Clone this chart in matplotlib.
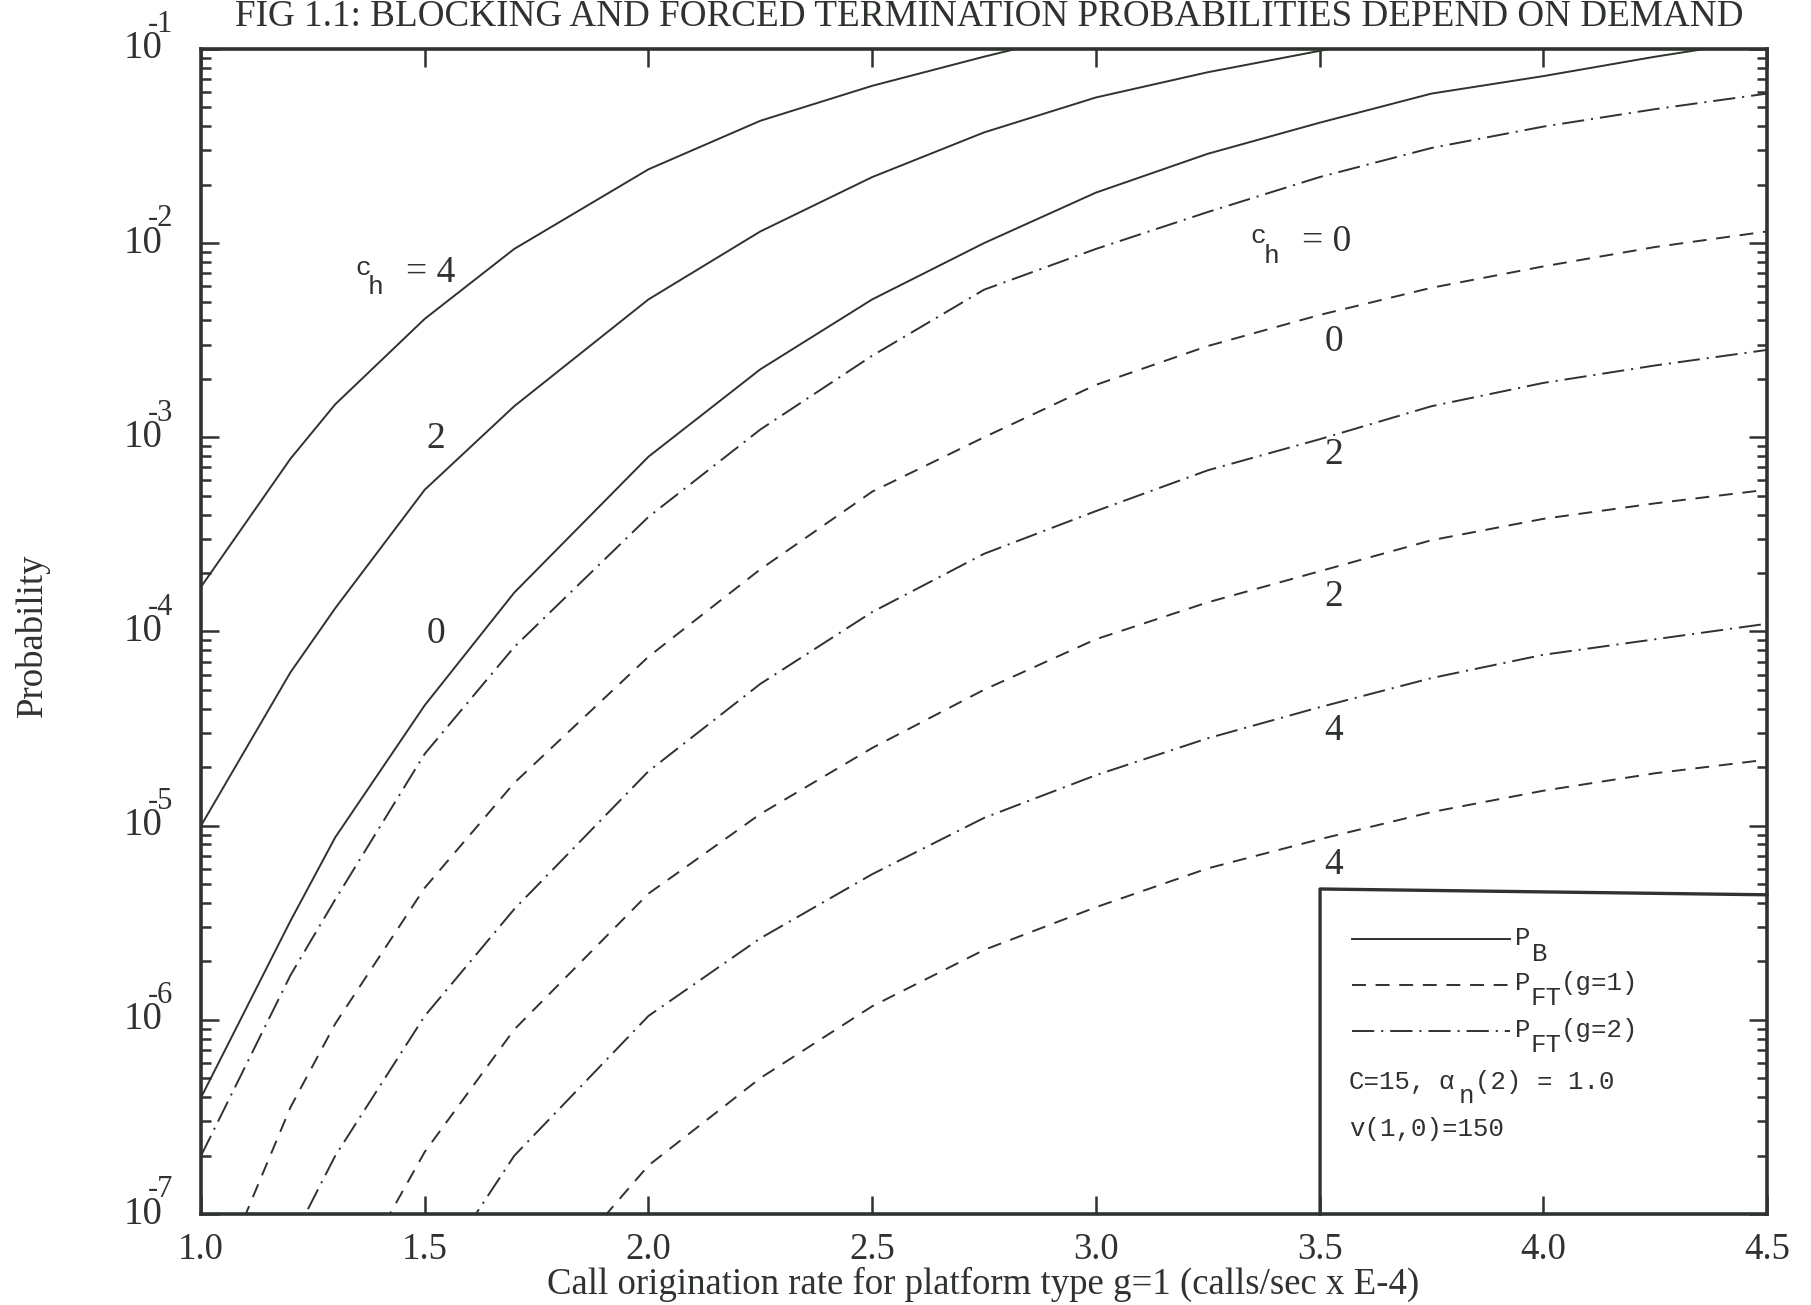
import numpy as np
import matplotlib
matplotlib.use('Agg')
import matplotlib.pyplot as plt
from matplotlib.ticker import FixedLocator, LogLocator, NullFormatter

# call origination rate (calls/sec x E-4)
X = [1.0, 1.2, 1.3, 1.5, 1.7, 2.0, 2.25, 2.5, 2.75, 3.0, 3.25, 3.5, 3.75, 4.0, 4.25, 4.5]
nan = np.nan

# log10 of probability
PB_CH4 = [-3.77, -3.11, -2.83, -2.39, -2.03, -1.62, -1.37, -1.19, -1.04, -0.90,
          nan, nan, nan, nan, nan, nan]
PB_CH2 = [-5.00, -4.21, -3.88, -3.27, -2.84, -2.29, -1.94, -1.66, -1.43, -1.25,
          -1.12, -1.01, -0.90, nan, nan, nan]
PB_CH0 = [-6.40, -5.49, -5.06, -4.38, -3.80, -3.10, -2.65, -2.29, -2.00, -1.74,
          -1.54, -1.38, -1.23, -1.14, -1.04, -0.95]
G1_CH0 = [-7.55, -6.45, -6.02, -5.32, -4.78, -4.13, -3.68, -3.28, -3.00, -2.73,
          -2.53, -2.37, -2.23, -2.12, -2.02, -1.94]
G1_CH2 = [nan, nan, -7.50, -6.68, -6.05, -5.35, -4.94, -4.60, -4.30, -4.04,
          -3.85, -3.69, -3.53, -3.42, -3.34, -3.27]
G1_CH4 = [nan, nan, nan, nan, -7.55, -6.75, -6.30, -5.93, -5.64, -5.42,
          -5.22, -5.07, -4.93, -4.82, -4.73, -4.66]
G2_CH0 = [-6.70, -5.77, -5.38, -4.63, -4.08, -3.41, -2.96, -2.58, -2.24, -2.03,
          -1.84, -1.66, -1.51, -1.40, -1.31, -1.23]
G2_CH2 = [nan, -7.15, -6.70, -5.98, -5.43, -4.72, -4.27, -3.90, -3.60, -3.38,
          -3.17, -3.01, -2.84, -2.72, -2.63, -2.55]
G2_CH4 = [nan, nan, nan, -7.40, -6.70, -5.98, -5.58, -5.25, -4.96, -4.74,
          -4.55, -4.39, -4.24, -4.12, -4.04, -3.96]

X_TICKS = [1.0, 1.5, 2.0, 2.5, 3.0, 3.5, 4.0, 4.5]
Y_EXPONENTS = [-1, -2, -3, -4, -5, -6, -7]

# curve labels: (channel count, x, log10 y, with "c_h =" prefix)
CURVE_LABELS = [
    ('4', 1.459, -2.155, True),
    ('2', 1.524, -3.01, False),
    ('0', 1.524, -4.01, False),
    ('0', 3.46, -1.994, True),
    ('0', 3.532, -2.51, False),
    ('2', 3.532, -3.09, False),
    ('2', 3.532, -3.82, False),
    ('4', 3.532, -4.51, False),
    ('4', 3.532, -5.20, False),
]

plt.rcParams['font.family'] = ['Liberation Serif', 'DejaVu Serif']
plt.rcParams['lines.scale_dashes'] = False

INK = '#2e332e'
MONO = 'Liberation Mono'
SOLID = '-'
DASH = (0, (10, 7))
DASHDOT = (0, (16, 5, 1.5, 5))
LEG_FS = 18.5


def seg_text(ax, x, y, parts, fs, family=MONO):
    # parts: (text, dx in monospace chars, dy in points)
    for txt, dx, dy in parts:
        ax.annotate(txt, xy=(x, y), xycoords='axes fraction',
                    xytext=(dx * 0.6 * fs, dy), textcoords='offset points',
                    family=family, fontsize=fs, color=INK, va='baseline', ha='left')


def main():
    fig = plt.figure(figsize=(18.11, 13.05), dpi=100)
    ax = fig.add_axes([0.111, 0.0697, 0.8647, 0.8928])

    for vals, ls in [(PB_CH4, SOLID), (PB_CH2, SOLID), (PB_CH0, SOLID),
                     (G1_CH0, DASH), (G1_CH2, DASH), (G1_CH4, DASH),
                     (G2_CH0, DASHDOT), (G2_CH2, DASHDOT), (G2_CH4, DASHDOT)]:
        ax.plot(X, 10 ** np.array(vals), color=INK, lw=1.4, ls=ls)

    ax.set_yscale('log')
    ax.set_xlim(1.0, 4.5)
    ax.set_ylim(1e-7, 1e-1)

    ax.xaxis.set_major_locator(FixedLocator(X_TICKS))
    ax.set_xticklabels(['%.1f' % v for v in X_TICKS])
    ax.yaxis.set_major_locator(FixedLocator([10.0 ** e for e in Y_EXPONENTS]))
    ax.yaxis.set_minor_locator(LogLocator(base=10, subs=np.arange(2, 10), numticks=20))
    ax.yaxis.set_major_formatter(NullFormatter())
    ax.yaxis.set_minor_formatter(NullFormatter())

    ax.tick_params(which='both', direction='in', top=True, right=True,
                   color=INK, width=1.8)
    ax.tick_params(which='major', length=13)
    ax.tick_params(which='minor', length=7)
    ax.tick_params(axis='x', labelsize=26.5, pad=13, labelcolor=INK)
    for sp in ax.spines.values():
        sp.set_linewidth(2.6)
        sp.set_color(INK)

    # y tick labels drawn as "10" with a large raised exponent
    ytr = ax.get_yaxis_transform()
    for e in Y_EXPONENTS:
        ax.annotate('10', xy=(0, 10.0 ** e), xycoords=ytr, xytext=(-28, 0),
                    textcoords='offset points', ha='right', va='center',
                    fontsize=28, color=INK, annotation_clip=False)
        ax.annotate(str(e), xy=(0, 10.0 ** e), xycoords=ytr, xytext=(-38, 7),
                    textcoords='offset points', ha='left', va='bottom',
                    fontsize=22, color=INK, annotation_clip=False)

    for txt, x, ly, prefix in CURVE_LABELS:
        if prefix:
            ax.annotate('c', xy=(x, 10 ** ly), xytext=(-31, -1), textcoords='offset points',
                        family=MONO, fontsize=19, color=INK, ha='center', va='baseline')
            ax.annotate('h', xy=(x, 10 ** ly), xytext=(-22, -15), textcoords='offset points',
                        family=MONO, fontsize=19, color=INK, ha='center', va='baseline')
            ax.annotate('= ' + txt, xy=(x, 10 ** ly), xytext=(0, 0), textcoords='offset points',
                        fontsize=27, color=INK, ha='left', va='center')
        else:
            ax.text(x, 10 ** ly, txt, fontsize=27, color=INK, ha='center', va='center')

    # legend box in the lower right corner
    ax.plot([0.7146, 0.7146, 1.0], [0.0, 0.279, 0.274], transform=ax.transAxes,
            color=INK, lw=2.4, clip_on=False)
    for y, ls, tail in [(0.236, SOLID, ''), (0.197, DASH, '(g=1)'), (0.157, DASHDOT, '(g=2)')]:
        ax.plot([0.735, 0.836], [y, y], transform=ax.transAxes, color=INK, lw=1.4, ls=ls)
        parts = [('P', 0, -4)]
        if tail:
            parts += [('FT', 1.0, -15), (tail, 3.0, -4)]
        else:
            parts += [('B', 1.1, -16)]
        seg_text(ax, 0.839, y, parts, LEG_FS)
    seg_text(ax, 0.733, 0.107, [('C=15,', 0, 0), ('\u03b1', 5.8, 0), ('n', 7.1, -10),
                                ('(2) = 1.0', 8.2, 0)], LEG_FS)
    seg_text(ax, 0.733, 0.067, [('v(1,0)=150', 0, 0)], LEG_FS)

    fig.text(0.546, 0.980, 'FIG 1.1: BLOCKING AND FORCED TERMINATION PROBABILITIES DEPEND ON DEMAND',
             ha='center', va='baseline', fontsize=26.7, color=INK)
    fig.text(0.0177, 0.513, 'Probability', rotation=90, ha='center', va='center',
             fontsize=26.5, color=INK)
    fig.text(0.543, 0.016, 'Call origination rate for platform type g=1 (calls/sec x E-4)',
             ha='center', va='center', fontsize=26.5, color=INK)

    fig.savefig('out.png', dpi=100, facecolor='white')


if __name__ == '__main__':
    main()
